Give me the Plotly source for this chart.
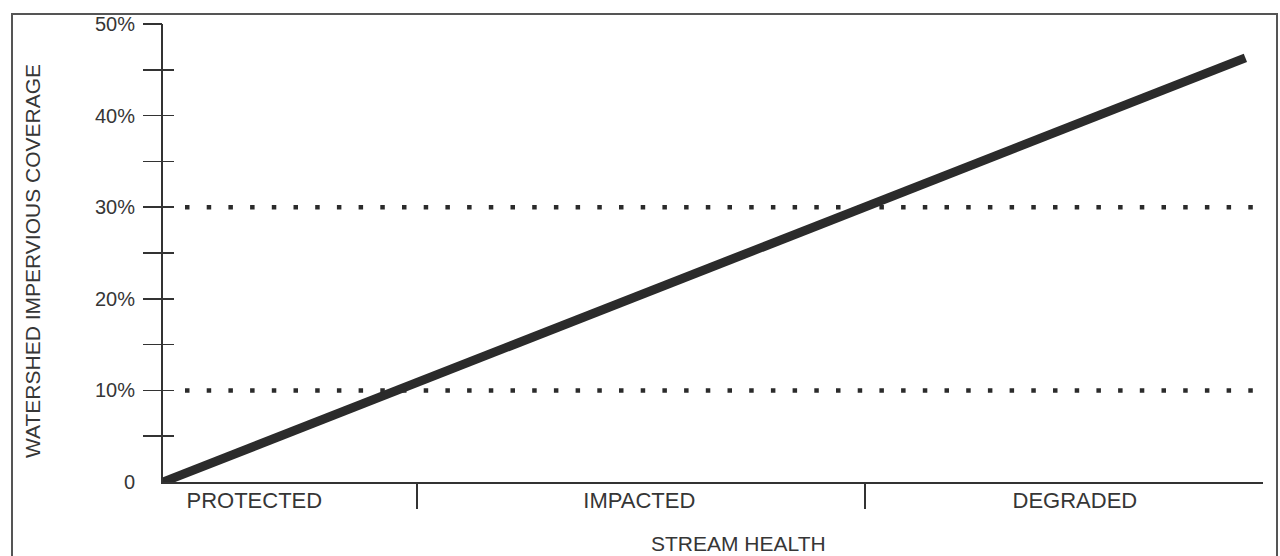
import plotly.graph_objects as go

# ---- data ----
categories = ["PROTECTED", "IMPACTED", "DEGRADED"]
category_label_pos = [8.3, 43.3, 82.9]        # stream-health index positions of labels
category_boundaries = [23.1, 63.8]            # separators between categories
health_index = [0, 98.4]                       # x of the trend line
impervious_pct = [0, 46.3]                     # y of the trend line (%)
threshold_pct = [10, 30]                       # dotted threshold lines (%)
threshold_x = [2.0, 99.6]
y_tick_vals = [0, 10, 20, 30, 40, 50]
y_tick_text = ["0", "10%", "20%", "30%", "40%", "50%"]
y_minor_vals = [5, 10, 15, 20, 25, 30, 35, 40, 45, 50]

FONT = "Liberation Sans, Arial, sans-serif"
TXT = "#363636"
AX = "#333333"

fig = go.Figure()

# main trend line
fig.add_trace(go.Scatter(x=health_index, y=impervious_pct, mode="lines",
                         line=dict(color="#2b2b2b", width=9),
                         xaxis="x", yaxis="y", hoverinfo="skip", showlegend=False))
# dotted thresholds
fig.add_trace(go.Scatter(x=threshold_x, y=[threshold_pct[0]] * 2, mode="lines",
                         line=dict(color="#2b2b2b", width=4.5, dash="4.5px,17.2px"),
                         xaxis="x", yaxis="y2", hoverinfo="skip", showlegend=False))
fig.add_trace(go.Scatter(x=threshold_x, y=[threshold_pct[1]] * 2, mode="lines",
                         line=dict(color="#2b2b2b", width=4.5, dash="4.5px,17.2px"),
                         xaxis="x2", yaxis="y3", hoverinfo="skip", showlegend=False))

L, R, T, B = 163, 17, 24, 74
W, H = 1280, 556
pw, ph = W - L - R, H - T - B

fig.update_layout(
    width=W, height=H,
    margin=dict(l=L, r=R, t=T, b=B),
    paper_bgcolor="white", plot_bgcolor="white",
    font=dict(family=FONT, color=TXT),
    showlegend=False,
    xaxis=dict(range=[0, 100], showgrid=False, zeroline=False,
               showline=True, linecolor=AX, linewidth=2,
               tickmode="array", tickvals=category_label_pos, ticktext=categories,
               ticks="", tickfont=dict(size=22, family=FONT, color=TXT),
               ticklabelstandoff=-2, fixedrange=True),
    xaxis2=dict(range=[0, 100], overlaying="x", anchor="y", side="bottom",
                showgrid=False, zeroline=False, showline=False,
                tickmode="array", tickvals=category_boundaries,
                ticks="outside", ticklen=26, tickwidth=1.5, tickcolor=AX,
                showticklabels=False, fixedrange=True),
    yaxis=dict(range=[0, 50], showgrid=False, zeroline=False,
               showline=True, linecolor=AX, linewidth=2,
               tickmode="array", tickvals=y_tick_vals, ticktext=y_tick_text,
               ticks="", tickfont=dict(size=20, family=FONT, color=TXT),
               ticklabelstandoff=22, fixedrange=True),
    yaxis2=dict(range=[0, 50], overlaying="y", anchor="x", side="left",
                showgrid=False, zeroline=False, showline=False,
                tickmode="array", tickvals=y_minor_vals,
                ticks="outside", ticklen=19, tickwidth=1.5, tickcolor=AX,
                showticklabels=False, fixedrange=True),
    yaxis3=dict(range=[0, 50], overlaying="y", anchor="x", side="left",
                showgrid=False, zeroline=False, showline=False,
                tickmode="array", tickvals=y_minor_vals,
                ticks="inside", ticklen=11, tickwidth=1.5, tickcolor=AX,
                showticklabels=False, fixedrange=True),
)

# axis titles
fig.add_annotation(text="STREAM HEALTH", xref="paper", yref="paper",
                   x=(738 - L) / pw, y=0, yshift=-61, xanchor="center", yanchor="middle",
                   showarrow=False, font=dict(size=21, family=FONT, color=TXT))
fig.add_annotation(text="WATERSHED IMPERVIOUS COVERAGE", xref="paper", yref="paper",
                   x=(32 - L) / pw, y=(H - B - 261) / ph, textangle=-90,
                   xanchor="center", yanchor="middle",
                   showarrow=False, font=dict(size=21, family=FONT, color=TXT))

# outer frame
fig.add_shape(type="rect", xref="paper", yref="paper",
              x0=(12 - L) / pw, x1=(1277 - L) / pw,
              y0=-(B + 10) / ph, y1=(H - B - 14) / ph,
              line=dict(color="#555555", width=2), fillcolor="rgba(0,0,0,0)",
              layer="below")

fig.write_html("out.html", config={"staticPlot": True},
               post_script="document.body.style.margin='0';document.body.style.overflow='hidden';")
